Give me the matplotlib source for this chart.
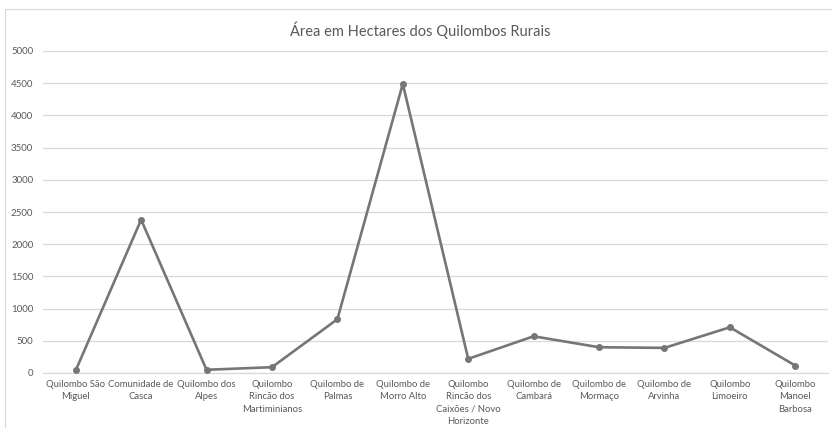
import matplotlib
matplotlib.use("Agg")
import matplotlib.pyplot as plt
from matplotlib.patches import Rectangle

categories = [
    "Quilombo São\nMiguel",
    "Comunidade de\nCasca",
    "Quilombo dos\nAlpes",
    "Quilombo\nRincão dos\nMartiminianos",
    "Quilombo de\nPalmas",
    "Quilombo de\nMorro Alto",
    "Quilombo\nRincão dos\nCaixões / Novo\nHorizonte",
    "Quilombo de\nCambará",
    "Quilombo de\nMormaço",
    "Quilombo de\nArvinha",
    "Quilombo\nLimoeiro",
    "Quilombo\nManoel\nBarbosa",
]
area_ha = [40, 2380, 50, 90, 835, 4490, 220, 570, 400, 390, 710, 115]
y_ticks = [0, 500, 1000, 1500, 2000, 2500, 3000, 3500, 4000, 4500, 5000]

plt.rcParams["font.family"] = ["Lato", "DejaVu Sans"]

W, H = 832, 428
fig = plt.figure(figsize=(W / 100, H / 100), dpi=100)
fig.patch.set_facecolor("white")

# chart frame
fig.patches.append(Rectangle((5 / W, -0.05), 1.2, 1 - 9 / H + 0.05,
                             transform=fig.transFigure, fill=False,
                             edgecolor="#d9d9d9", linewidth=0.8))

ax = fig.add_axes([43 / W, 1 - 373 / H, (828 - 43) / W, (373 - 51) / H])
x = list(range(len(categories)))
ax.plot(x, area_ha, color="#767676", linewidth=1.9, marker="o",
        markersize=4, zorder=3)

ax.set_xlim(-0.5, len(categories) - 0.5)
ax.set_ylim(0, 5000)
ax.set_yticks(y_ticks)
ax.set_yticklabels([str(v) for v in y_ticks])
ax.set_xticks(x)
ax.set_xticklabels(categories, fontsize=6.8, color="#595959", linespacing=1.5)
ax.tick_params(axis="y", labelsize=7, labelcolor="#595959", length=0, pad=7)
ax.tick_params(axis="x", length=0, pad=5)
ax.grid(axis="y", color="#d9d9d9", linewidth=0.9)
ax.set_axisbelow(True)
for s in ["top", "right", "left"]:
    ax.spines[s].set_visible(False)
ax.spines["bottom"].set_color("#d9d9d9")
ax.spines["bottom"].set_linewidth(0.9)

fig.text(0.505, 1 - 30 / H, "Área em Hectares dos Quilombos Rurais",
         ha="center", va="center", fontsize=10.5, color="#595959")

fig.savefig("out.png", dpi=100, facecolor="white")
